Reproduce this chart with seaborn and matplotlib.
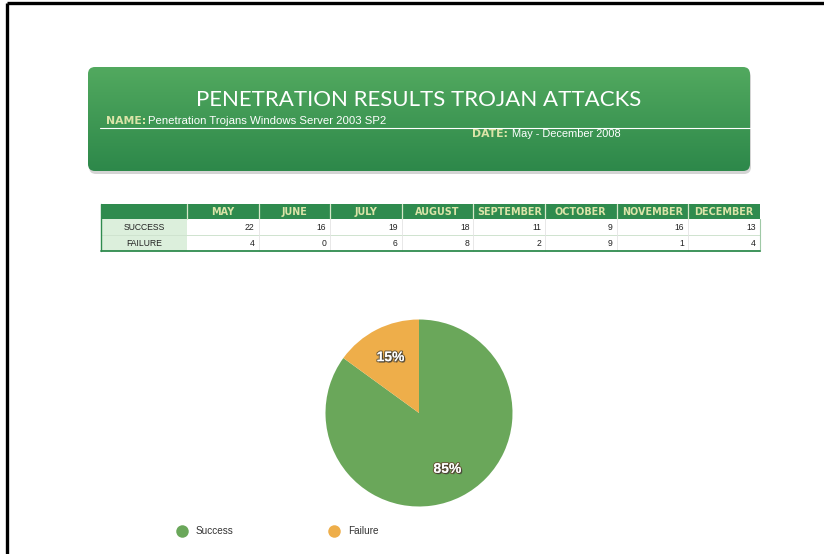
import numpy as np
import pandas as pd
import matplotlib
matplotlib.use("Agg")
import matplotlib.pyplot as plt
import matplotlib.patheffects as pe
from matplotlib.patches import FancyBboxPatch, Rectangle
from matplotlib.lines import Line2D
import seaborn as sns

# ---- data -------------------------------------------------------------
months = ["MAY", "JUNE", "JULY", "AUGUST", "SEPTEMBER", "OCTOBER", "NOVEMBER", "DECEMBER"]
row_labels = ["SUCCESS", "FAILURE"]
success = [22, 16, 19, 18, 11, 9, 16, 13]
failure = [4, 0, 6, 8, 2, 9, 1, 4]
pie_labels = ["Success", "Failure"]
pie_share = [85, 15]

title = "PENETRATION RESULTS TROJAN ATTACKS"
name_text = "Penetration Trojans Windows Server 2003 SP2"
date_text = "May - December 2008"

table = pd.DataFrame([success, failure], index=row_labels, columns=months)

sns.set_theme(style="white")
plt.rcParams["font.family"] = ["DejaVu Sans"]

GREEN = "#6aa75a"
ORANGE = "#eeae4a"
HEAD = "#2f8b4e"
PALE = "#dbe4a8"

W, H = 824, 554
fig = plt.figure(figsize=(W / 100, H / 100), dpi=100)
fig.patch.set_facecolor("white")

# overlay axes in pixel coordinates
ov = fig.add_axes([0, 0, 1, 1])
ov.set_xlim(0, W)
ov.set_ylim(H, 0)
ov.axis("off")

# page frame (top and left edges)
ov.plot([7, W + 5], [2.5, 2.5], color="black", lw=2.4, solid_capstyle="butt")
ov.plot([7, 7], [2.5, H], color="black", lw=2.4, solid_capstyle="butt")

# ---- header banner ----------------------------------------------------
bx0, by0, bx1, by1 = 88, 67, 750, 171
shadow = FancyBboxPatch((bx0 + 1, by0 + 3), bx1 - bx0, by1 - by0,
                        boxstyle="round,pad=0,rounding_size=7",
                        fc="#b8b8b8", ec="none", alpha=0.6, zorder=1)
ov.add_patch(shadow)
banner = FancyBboxPatch((bx0, by0), bx1 - bx0, by1 - by0,
                        boxstyle="round,pad=0,rounding_size=7",
                        fc="none", ec="none", zorder=2)
ov.add_patch(banner)
top_c = np.array(matplotlib.colors.to_rgb("#52a95f"))
bot_c = np.array(matplotlib.colors.to_rgb("#2d884a"))
t = np.linspace(0, 1, 200)[:, None]
grad = (top_c[None, :] * (1 - t) + bot_c[None, :] * t)[:, None, :]
im = ov.imshow(grad, extent=[bx0, bx1, by1, by0], aspect="auto", zorder=2,
               interpolation="bilinear")
im.set_clip_path(banner)
ov.set_xlim(0, W)
ov.set_ylim(H, 0)

ov.text(418.5, 100.5, title, color="white", fontsize=16,
        ha="center", va="center", family=["Lato", "DejaVu Sans"], zorder=3)
ov.text(106, 120.5, "NAME:", color=PALE, fontsize=7.8, fontweight="bold",
        ha="left", va="center", zorder=3)
ov.text(148, 120.5, name_text, color="white", fontsize=8.2, ha="left", va="center",
        family=["Liberation Sans"], zorder=3)
ov.plot([100, bx1], [127.5, 127.5], color="white", lw=0.8, zorder=3)
ov.text(472, 134, "DATE:", color=PALE, fontsize=7.8, fontweight="bold",
        ha="left", va="center", zorder=3)
ov.text(512, 134, date_text, color="white", fontsize=7.9, ha="left", va="center",
        family=["Liberation Sans"], zorder=3)

# ---- data table -------------------------------------------------------
tx0, first_w, col_w = 101, 86, 71.6
ty0, head_h, row_h = 204, 15, 16
tx1 = tx0 + first_w + col_w * len(months)
ov.add_patch(Rectangle((tx0, ty0), tx1 - tx0, head_h, fc=HEAD, ec="none"))
for i, m in enumerate(months):
    cx = tx0 + first_w + col_w * i
    if i > 0:
        ov.plot([cx, cx], [ty0, ty0 + head_h], color="#d6e8c8", lw=0.9)
    ov.text(cx + col_w / 2, ty0 + head_h / 2 + 0.5, m, color=PALE, fontsize=6.9,
            fontweight="bold", ha="center", va="center")
ov.plot([tx0 + first_w, tx0 + first_w], [ty0, ty0 + head_h], color="#d6e8c8", lw=0.9)

for r, lab in enumerate(table.index):
    ry = ty0 + head_h + row_h * r
    ov.add_patch(Rectangle((tx0, ry), first_w, row_h, fc="#dcefdc", ec="none"))
    ov.text(tx0 + first_w / 2, ry + row_h / 2, lab, color="#222222", fontsize=6.2,
            ha="center", va="center", family=["Liberation Sans"])
    for i, m in enumerate(table.columns):
        cx = tx0 + first_w + col_w * (i + 1)
        ov.text(cx - 4, ry + row_h / 2, str(table.loc[lab, m]), color="#222222",
                fontsize=6.2, ha="right", va="center", family=["Liberation Sans"])
    if r == 0:
        ov.plot([tx0, tx1], [ry + row_h, ry + row_h], color="#cfe3cf", lw=0.7)
for i in range(len(months)):
    cx = tx0 + first_w + col_w * (i + 1)
    ov.plot([cx, cx], [ty0 + head_h, ty0 + head_h + 2 * row_h], color="#e4e4e4", lw=0.6)
ov.plot([tx0, tx0], [ty0, ty0 + head_h + 2 * row_h], color=HEAD, lw=1.0)
ov.plot([tx1, tx1], [ty0 + head_h, ty0 + head_h + 2 * row_h], color="#9fc9a6", lw=0.8)
ov.plot([tx0, tx1], [ty0 + head_h + 2 * row_h] * 2, color=HEAD, lw=1.3)

# ---- pie --------------------------------------------------------------
cx_p, cy_p, rad = 419, 413, 93.5
pax = fig.add_axes([(cx_p - rad) / W, (H - cy_p - rad) / H, 2 * rad / W, 2 * rad / H])
wedges, texts, autotexts = pax.pie(
    pie_share, colors=[GREEN, ORANGE], startangle=90, counterclock=False,
    autopct=lambda p: f"{p:.0f}%", pctdistance=0.67, radius=1,
    wedgeprops=dict(linewidth=0))
pax.set_aspect("equal")
pax.set_xlim(-1, 1)
pax.set_ylim(-1, 1)
for at in autotexts:
    at.set_color("white")
    at.set_fontsize(10)
    at.set_family(["Liberation Sans"])
    at.set_fontweight("bold")
    at.set_path_effects([pe.withStroke(linewidth=1.6, foreground="#6b5a3a"),
                         pe.SimplePatchShadow(offset=(1, -1), shadow_rgbFace="#333333", alpha=0.6),
                         pe.Normal()])

# ---- legend -----------------------------------------------------------
handles = [Line2D([0], [0], marker="o", ls="none", markersize=9,
                  markerfacecolor=c, markeredgecolor="none") for c in [GREEN, ORANGE]]
leg = fig.legend(handles, pie_labels, loc="center left",
                 bbox_to_anchor=(167 / W, 1 - 531 / H), ncol=2, frameon=False,
                 columnspacing=9.4, handletextpad=0.8, handlelength=1.2,
                 prop=dict(size=7.2, family="Liberation Sans"))
for txt in leg.get_texts():
    txt.set_color("#333333")

fig.savefig("out.png", dpi=100)
